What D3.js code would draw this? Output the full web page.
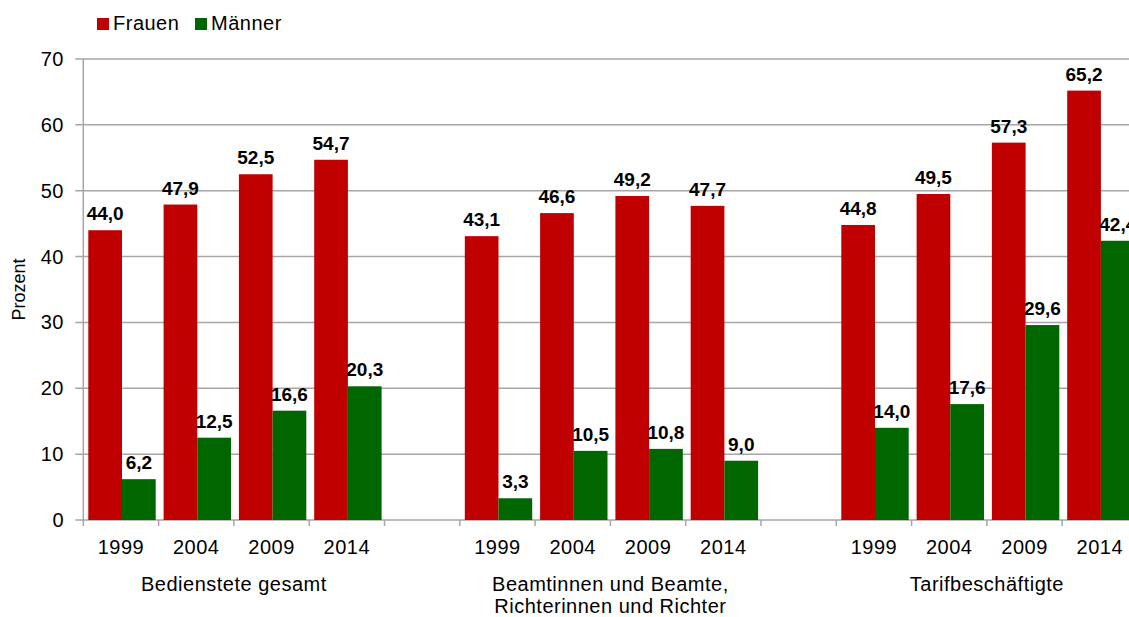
<!DOCTYPE html>
<html>
<head>
<meta charset="utf-8">
<script src="https://cdn.jsdelivr.net/npm/d3@7"></script>
<style>
  body { margin: 0; background: #fff; overflow: hidden; }
  text { font-family: "Liberation Sans", Arial, sans-serif; fill: #000; }
  .lbl { font-size: 20px; letter-spacing: 0.5px; }
</style>
</head>
<body>
<div id="chart"></div>
<script>
// chart values
const groups = ['Bedienstete gesamt', 'Beamtinnen und Beamte,|Richterinnen und Richter', 'Tarifbeschäftigte']
const years = ['1999', '2004', '2009', '2014']
const series = ['Frauen', 'Männer']
const frauen = [44.0, 47.9, 52.5, 54.7, 43.1, 46.6, 49.2, 47.7, 44.8, 49.5, 57.3, 65.2]
const maenner = [6.2, 12.5, 16.6, 20.3, 3.3, 10.5, 10.8, 9.0, 14.0, 17.6, 29.6, 42.4]
const yTicks = [0, 10, 20, 30, 40, 50, 60, 70]
const colors = ['#c00000', '#006600']

const width = 1129,
  height = 617,
  plotLeft = 83.3,
  plotTop = 59,
  plotBottom = 520,
  slotW = 75.3

// slots: 4 per group plus an empty slot between groups
let slots = []
groups.forEach((g, gi) => {
  years.forEach(y => slots.push({ key: gi + '-' + y, group: gi, year: y }))
  if (gi < groups.length - 1) slots.push({ key: 'gap' + gi, group: null })
})

const x = d3.scaleBand()
  .domain(slots.map(d => d.key))
  .range([plotLeft, plotLeft + slots.length * slotW])
  .padding(0)

const xs = d3.scaleBand()
  .domain(series)
  .range([5, 72.4])

const y = d3.scaleLinear()
  .domain([0, 70])
  .range([plotBottom, plotTop])

let svg = d3.select('#chart')
  .append('svg')
  .attr('width', width)
  .attr('height', height)

// gridlines
svg.append('g')
  .selectAll('line')
  .data(yTicks)
  .enter()
  .append('line')
  .attr('x1', plotLeft - 8)
  .attr('x2', width)
  .attr('y1', d => y(d))
  .attr('y2', d => y(d))
  .attr('stroke', '#a6a6a6')
  .attr('stroke-width', 1.5)

// y axis line
svg.append('line')
  .attr('x1', plotLeft).attr('x2', plotLeft)
  .attr('y1', plotTop).attr('y2', plotBottom)
  .attr('stroke', '#a6a6a6')
  .attr('stroke-width', 1.5)

// y tick labels
svg.append('g')
  .selectAll('text')
  .data(yTicks)
  .enter()
  .append('text')
  .attr('class', 'lbl')
  .attr('x', 64)
  .attr('y', d => y(d) + 7)
  .attr('text-anchor', 'end')
  .text(d => d)

svg.append('text')
  .attr('transform', 'translate(25,' + ((plotTop + plotBottom) / 2) + ') rotate(-90)')
  .attr('text-anchor', 'middle')
  .style('font-size', '18px')
  .text('Prozent')

// x ticks at slot boundaries
let bounds = slots.map(d => x(d.key)).concat([x(slots[slots.length - 1].key) + slotW])
svg.append('g')
  .selectAll('line')
  .data(bounds)
  .enter()
  .append('line')
  .attr('x1', d => d).attr('x2', d => d)
  .attr('y1', plotBottom).attr('y2', plotBottom + 6)
  .attr('stroke', '#a6a6a6')
  .attr('stroke-width', 1.5)

// bars
let data = []
slots.filter(d => d.group !== null).forEach((s, i) => {
  data.push({ slot: s.key, series: 'Frauen', value: frauen[i], c: colors[0] })
  data.push({ slot: s.key, series: 'Männer', value: maenner[i], c: colors[1] })
})

svg.append('g')
  .selectAll('rect')
  .data(data)
  .enter()
  .append('rect')
  .attr('x', d => x(d.slot) + xs(d.series))
  .attr('y', d => y(d.value))
  .attr('width', xs.bandwidth())
  .attr('height', d => plotBottom - y(d.value))
  .attr('fill', d => d.c)

// value labels
svg.append('g')
  .selectAll('text')
  .data(data)
  .enter()
  .append('text')
  .attr('x', d => x(d.slot) + xs(d.series) + xs.bandwidth() / 2)
  .attr('y', d => y(d.value) - 10)
  .attr('text-anchor', 'middle')
  .style('font-size', '19px')
  .style('font-weight', 'bold')
  .text(d => d.value.toFixed(1).replace('.', ','))

// year labels
svg.append('g')
  .selectAll('text')
  .data(slots.filter(d => d.group !== null))
  .enter()
  .append('text')
  .attr('class', 'lbl')
  .attr('x', d => x(d.key) + slotW / 2)
  .attr('y', 554)
  .attr('text-anchor', 'middle')
  .text(d => d.year)

// group labels
groups.forEach((g, gi) => {
  let x0 = x(gi + '-' + years[0])
  let x1 = x(gi + '-' + years[years.length - 1]) + slotW
  let t = svg.append('text')
    .attr('class', 'lbl')
    .attr('x', (x0 + x1) / 2)
    .attr('y', 591)
    .attr('text-anchor', 'middle')
  g.split('|').forEach((line, li) => {
    t.append('tspan')
      .attr('x', (x0 + x1) / 2)
      .attr('dy', li === 0 ? 0 : 22)
      .text(line)
  })
})

// legend
let legX = [97, 195]
series.forEach((s, i) => {
  svg.append('rect')
    .attr('x', legX[i]).attr('y', 18)
    .attr('width', 12).attr('height', 12)
    .attr('fill', colors[i])
  svg.append('text')
    .attr('class', 'lbl')
    .attr('x', legX[i] + 16).attr('y', 30)
    .text(s)
})
</script>
</body>
</html>
